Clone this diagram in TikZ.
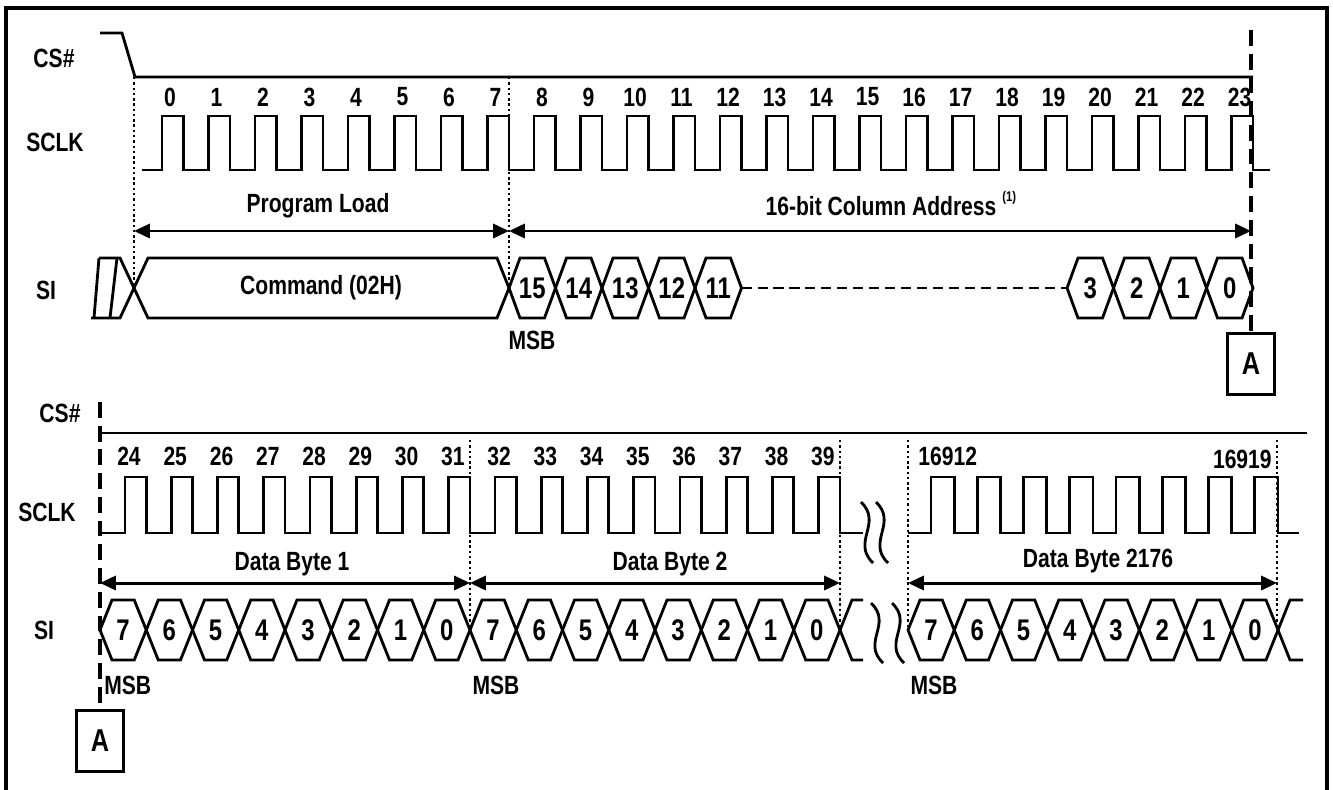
\documentclass[tikz,border=0pt]{standalone}
\usepackage{fontspec}
\setmainfont{Liberation Sans}[FakeStretch=0.8]
\usetikzlibrary{arrows.meta}
\tikzset{>={Triangle[length=9pt,width=8pt]},every node/.style={font=\bfseries\fontsize{15}{17}\selectfont,inner sep=0pt},
sig/.style={line width=1.6pt,line join=miter},guide/.style={line width=1.4pt,dash pattern=on 1.4pt off 1.6pt},
cut/.style={line width=2.4pt,dash pattern=on 9pt off 4.5pt},span/.style={line width=1.7pt,<->},
bit/.style={font=\bfseries\fontsize{17}{19}\selectfont},frame/.style={line width=2.8pt},
markbox/.style={draw,line width=1.6pt,minimum width=9.4mm,minimum height=12.2mm,font=\bfseries\fontsize{18}{19}\selectfont}}
\newcommand\clkrun[5]{\draw[sig] (#1,\lo) \foreach \k in {1,...,#4}{ -- ({#2+(\k-1)*\p+#3},\lo) -- ({#2+(\k-1)*\p+#3},\hi) -- ({#2+\k*\p},\hi) -- ({#2+\k*\p},\lo)} -- (#5,\lo);}
\newcommand\hexat[5]{\draw[sig] ({#1},#3) -- ({#1+\s},{#3-\h}) -- ({#2-\s},{#3-\h}) -- ({#2},#3) -- ({#2-\s},{#3+\h}) -- ({#1+\s},{#3+\h}) -- cycle;\node[bit] (#5) at ({(#1+#2)/2},#3) {#4};}
\newcommand\wave[3]{\draw[sig] ({#1-6},#2) .. controls ({#1+16},{#2+0.35*(#3-#2)}) and ({#1-16},{#2+0.65*(#3-#2)}) .. ({#1+6},#3);}
\begin{document}
\begin{tikzpicture}[x=0.2mm,y=-0.2mm]
\useasboundingbox (0,0) rectangle (1333,789);
\draw[frame] (6,800) -- (6,8) -- (1327,8) -- (1327,800);
\node (cs1) at (54,58) {CS\#};\node (sck1) at (55,142) {SCLK};\node (si1) at (46,290) {SI};
\draw[sig] (100,33) -- (122,33) -- (135,77) -- (1253,77);
\def\p{46.5}\def\hi{116}\def\lo{170}
\clkrun{142}{137}{25}{24}{1270}
\foreach \k in {0,...,23} \node (n\k) at ({137+\k*\p+33},97) {\k};
\draw[guide] (134,77) -- (134,287);\draw[guide] (509,77) -- (509,287);
\node[markbox] (mA1) at (1251,364) {A};\draw[cut] (1251,30) -- (mA1.north);
\draw[span] (134,231) -- (509,231);\draw[span] (509,231) -- (1251,231);
\node (pl) at (318,206) {Program Load};
\node (ca) at (881,206) {16-bit Column Address};\node[anchor=south west,font=\bfseries\fontsize{8}{9}\selectfont] (cafn) at ([xshift=3pt,yshift=-5pt]ca.north east) {(1)};
\draw[sig] (91,318) -- (120,318) -- (134,288);\draw[sig] (99,258) -- (120,258) -- (134,288);
\draw[sig] (99,258) -- (94,318);\draw[sig] (117,258) -- (110,318);
\draw[sig] (134,288) -- (148,258) -- (497,258) -- (509,288) -- (497,318) -- (148,318) -- cycle;\node (cmd) at (321,288) {Command (02H)};
\def\s{11}\def\h{30}
\foreach \t [count=\i from 0] in {15,14,13,12,11} {\hexat{509+\i*\p}{509+(\i+1)*\p}{288}{\t}{ha\t}}
\foreach \t [count=\i from 0] in {3,2,1,0} {\hexat{1067+\i*\p}{1067+(\i+1)*\p}{288}{\t}{hz\t}}
\coordinate (gapL) at (741.5,288);\coordinate (gapR) at (1067,288);
\draw[sig,dash pattern=on 5.7pt off 3.4pt] (gapL) -- (gapR);
\node (msbA) at (532,340) {MSB};
\node (cs2) at (60,413) {CS\#};\node (sck2) at (47,512) {SCLK};\node (si2) at (44,630) {SI};
\draw[sig] (100,433) -- (1307,433);
\node[markbox] (mA2) at (100,741) {A};\draw[cut] (100,402) -- (mA2.north);
\def\p{46.25}\def\hi{477}\def\lo{533}
\clkrun{100}{100}{25}{16}{863}
\clkrun{908}{908}{23}{8}{1299}
\foreach \k in {24,...,39} \node (n\k) at ({100+(\k-24)*\p+29},456) {\k};
\node[anchor=west] (n16912) at (918,456) {16912};\node[anchor=east] (n16919) at (1272,459) {16919};
\foreach \x in {470,840,908,1277} \draw[guide] (\x,440) -- (\x,628);
\draw[span] (100,583) -- (470,583);\draw[span] (470,583) -- (840,583);\draw[span] (908,583) -- (1277,583);
\node (db1) at (292,564) {Data Byte 1};\node (db2) at (670,564) {Data Byte 2};\node (db3) at (1098,561) {Data Byte 2176};
\def\s{12}
\foreach \t [count=\i from 0] in {7,6,5,4,3,2,1,0,7,6,5,4,3,2,1,0} {\hexat{100+\i*\p}{100+(\i+1)*\p}{630}{\t}{hb\i}}
\foreach \t [count=\i from 0] in {7,6,5,4,3,2,1,0} {\hexat{908+\i*\p}{908+(\i+1)*\p}{630}{\t}{hc\i}}
\draw[sig] (840,630) -- (852,600) -- (863,600);\draw[sig] (840,630) -- (852,660) -- (863,660);
\draw[sig] (1278,630) -- (1290,600) -- (1303,600);\draw[sig] (1278,630) -- (1290,660) -- (1303,660);
\wave{867}{502}{563}\wave{882}{502}{563}
\wave{877}{603}{663}\wave{898}{603}{663}
\node[anchor=west] (msbB) at (104,685) {MSB};\node (msbC) at (496,685) {MSB};\node (msbD) at (934,685) {MSB};
\end{tikzpicture}
\end{document}
